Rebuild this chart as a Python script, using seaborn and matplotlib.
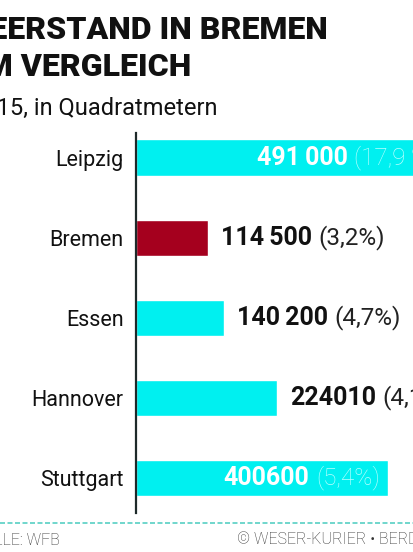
import matplotlib
matplotlib.use("Agg")
import matplotlib.pyplot as plt
import seaborn as sns
import pandas as pd

# Daten
staedte = ["Leipzig", "Bremen", "Essen", "Hannover", "Stuttgart"]
leerstand = [491000, 114500, 140200, 224010, 400600]
zahl_labels = ["491\u2009000", "114\u2009500", "140\u2009200", "224010", "400600"]
prozent_labels = ["(17,9 %)", "(3,2%)", "(4,7%)", "(4,1%)", "(5,4%)"]
farben = ["#00f0f0", "#a5001e", "#00f0f0", "#00f0f0", "#00f0f0"]
innen = [True, False, False, False, True]

df = pd.DataFrame({"Stadt": staedte, "Leerstand": leerstand})

sns.set_style("white")
plt.rcParams["font.family"] = ["Roboto", "DejaVu Sans"]

W, H = 414, 552
fig = plt.figure(figsize=(W / 100, H / 100), dpi=100)
fig.patch.set_facecolor("white")

def fx(px):
    return px / W

def fy(py):
    return 1 - py / H

# Achse: x von 136px bis 414px, y von 133px bis 513px
ax = fig.add_axes([fx(136), fy(513), fx(W - 136), (513 - 133) / H])
sns.barplot(data=df, x="Leerstand", y="Stadt", hue="Stadt", palette=farben,
            legend=False, width=0.45, orient="h", ax=ax, saturation=1)
ax.set_xlim(0, 278 / 0.00063)
ax.set_ylim(4.437, -0.306)
ax.set_xlabel("")
ax.set_ylabel("")
ax.set_xticks([])
for s in ["top", "right", "bottom"]:
    ax.spines[s].set_visible(False)
ax.spines["left"].set_color("#1e2a2a")
ax.spines["left"].set_linewidth(1.6)
ax.tick_params(axis="y", length=0, pad=9, labelsize=15.5, labelcolor="#111111")

# Werte-Beschriftung
fig.canvas.draw()
r = fig.canvas.get_renderer()
inv = ax.transData.inverted()
for i, (v, z, p, drin) in enumerate(zip(leerstand, zahl_labels, prozent_labels, innen)):
    if drin:
        tp = ax.annotate(p, (v, i), xytext=(-6, 0), textcoords="offset points",
                         ha="right", va="center", fontsize=17.5, fontweight="light",
                         color="#b8ffff", annotation_clip=False)
        bb = tp.get_window_extent(r)
        x0 = inv.transform((bb.x0, 0))[0]
        ax.annotate(z, (x0, i), xytext=(-5, 0), textcoords="offset points",
                    ha="right", va="center", fontsize=18, fontweight="bold",
                    color="white", annotation_clip=False)
    else:
        tz = ax.annotate(z, (v, i), xytext=(9, 0), textcoords="offset points",
                         ha="left", va="center", fontsize=18, fontweight="bold",
                         color="#111111", annotation_clip=False)
        bb = tz.get_window_extent(r)
        x1 = inv.transform((bb.x1, 0))[0]
        ax.annotate(p, (x1, i), xytext=(5, 0), textcoords="offset points",
                    ha="left", va="center", fontsize=17.5, fontweight="normal",
                    color="#222222", annotation_clip=False)

# Titel, Untertitel, Fußzeile
fig.text(fx(328), fy(39), "LEERSTAND IN BREMEN", ha="right", va="baseline",
         fontsize=23, fontweight="black", color="#111111")
fig.text(fx(191), fy(76), "IM VERGLEICH", ha="right", va="baseline",
         fontsize=23, fontweight="black", color="#111111")
fig.text(fx(218), fy(115), "Stand 2015, in Quadratmetern", ha="right", va="baseline",
         fontsize=17, fontweight="normal", color="#111111")

fig.add_artist(plt.Line2D([0, 1], [fy(523), fy(523)], transform=fig.transFigure,
                          color="#58cfc4", linewidth=1.2, linestyle=(0, (3, 1.5))))
fig.text(fx(60), fy(544), "QUELLE: WFB", ha="right", va="baseline",
         fontsize=11.5, fontweight="light", color="#333333")
fig.text(fx(237), fy(544), "\u00a9 WESER-KURIER \u2022 BERDING", ha="left", va="baseline",
         fontsize=11.5, fontweight="light", color="#333333")

fig.savefig("out.png", dpi=100)
